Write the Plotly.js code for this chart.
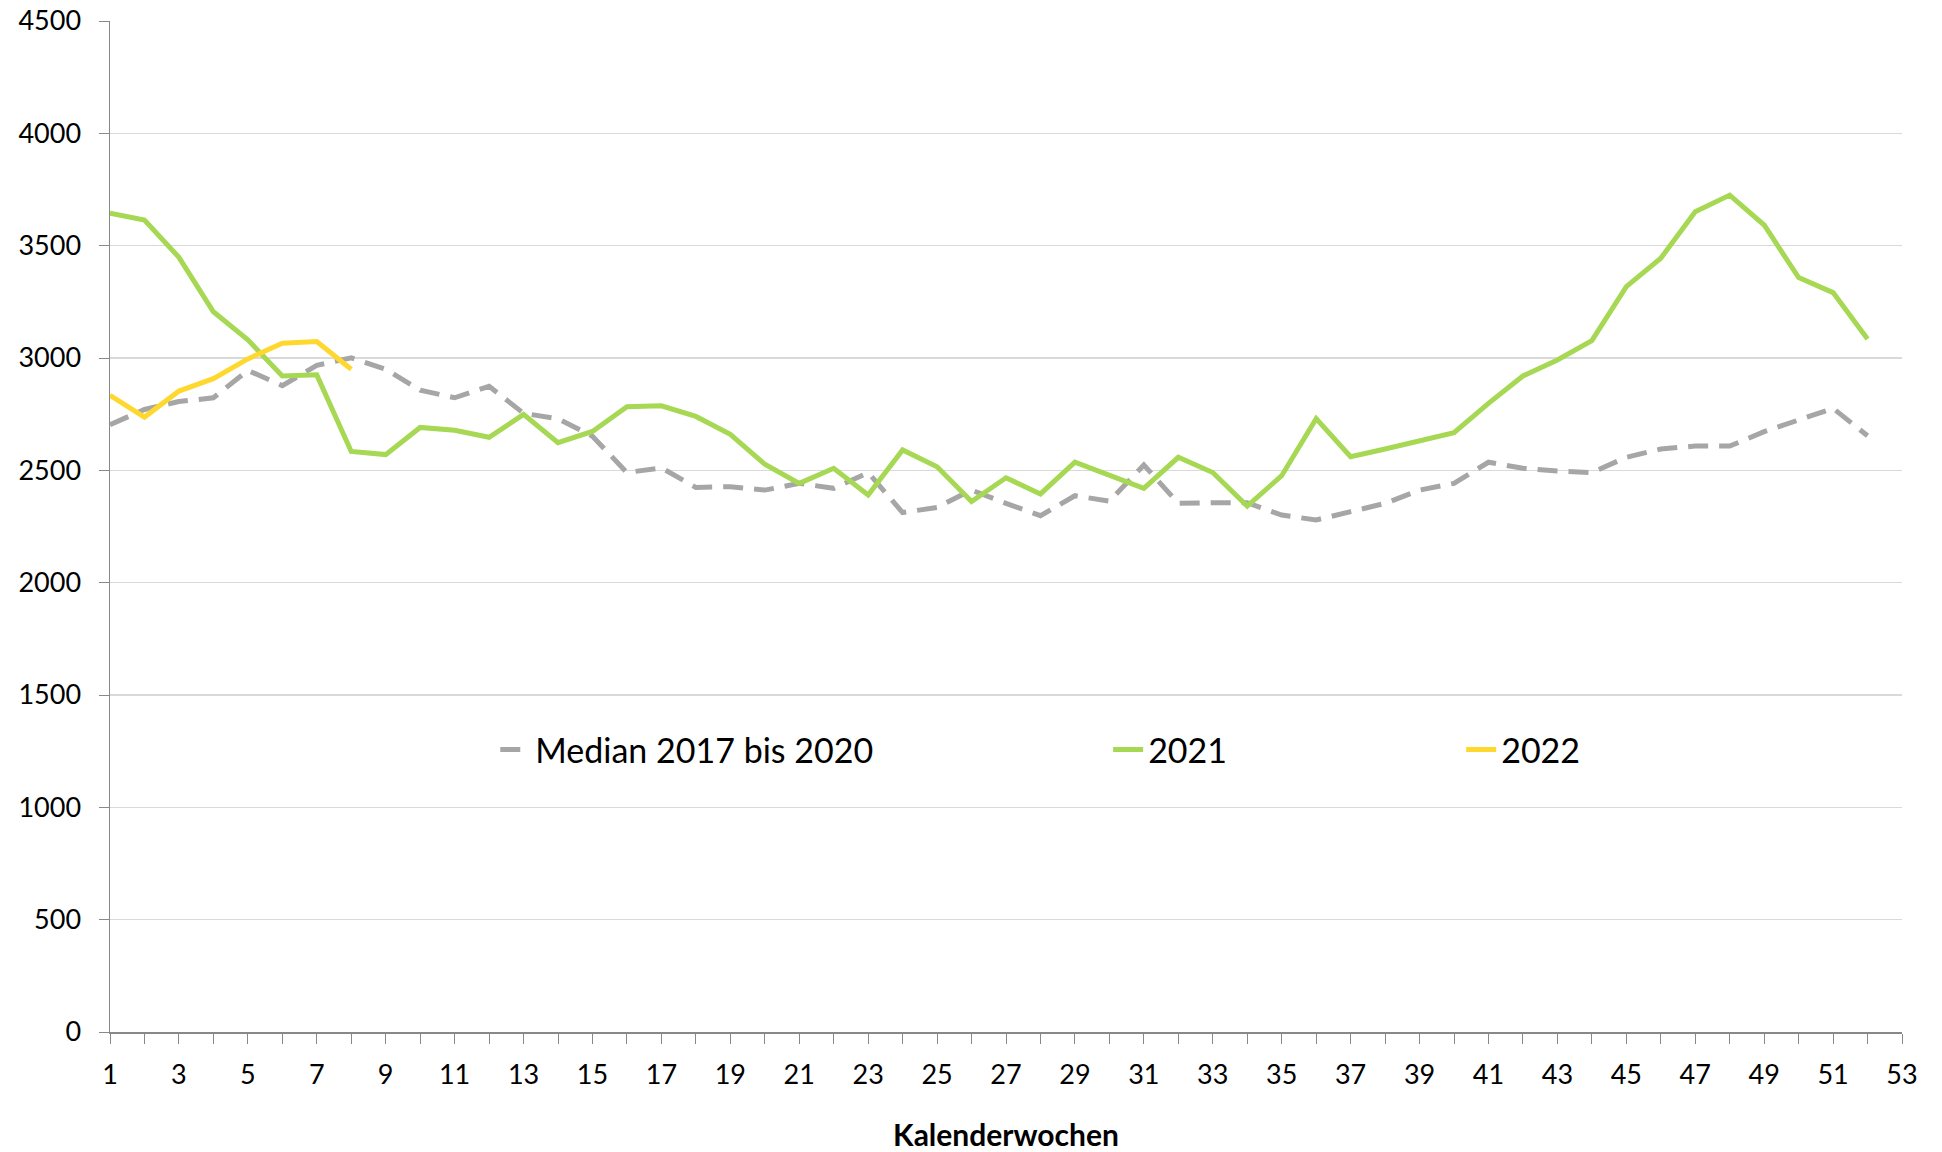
<!DOCTYPE html>
<html>
<head>
<meta charset="utf-8">
<script src="https://cdn.plot.ly/plotly-3.0.1.min.js"></script>
<style>html,body{margin:0;padding:0;background:#fff;}#chart{width:1942px;height:1152px;}</style>
</head>
<body>
<div id="chart"></div>
<script>
const weeks = Array.from({length: 52}, (_, i) => i + 1);
const weeks2022 = [1, 2, 3, 4, 5, 6, 7, 8];

const median2017to2020 = [2703, 2771, 2806, 2823, 2945, 2877, 2967, 3001, 2950, 2857,
  2823, 2874, 2754, 2729, 2652, 2490, 2511, 2424, 2427, 2412,
  2442, 2420, 2490, 2312, 2335, 2412, 2353, 2298, 2387, 2363,
  2524, 2353, 2356, 2356, 2301, 2279, 2316, 2353, 2412, 2442,
  2536, 2509, 2497, 2490, 2558, 2595, 2608, 2608, 2672, 2724,
  2776, 2654];

const values2021 = [3645, 3614, 3448, 3206, 3081, 2920, 2925, 2584, 2570, 2691,
  2678, 2647, 2749, 2623, 2673, 2783, 2787, 2740, 2660, 2527,
  2442, 2509, 2390, 2591, 2516, 2361, 2467, 2395, 2536, 2479,
  2420, 2558, 2490, 2341, 2476, 2730, 2561, 2595, 2631, 2668,
  2798, 2920, 2991, 3077, 3318, 3444, 3651, 3725, 3592, 3358,
  3291, 3085];

const values2022 = [2834, 2737, 2853, 2908, 2996, 3066, 3073, 2950];

const seriesNames = ['Median 2017 bis 2020', '2021', '2022'];
const xTitle = 'Kalenderwochen';

const FONT = 'Lato, "Open Sans", sans-serif';

const traces = [
  {x: weeks, y: median2017to2020, name: seriesNames[0], type: 'scatter', mode: 'lines',
   line: {color: '#A6A6A6', width: 5, dash: '20px,11px'}, legend: 'legend'},
  {x: weeks, y: values2021, name: seriesNames[1], type: 'scatter', mode: 'lines',
   line: {color: '#A6D853', width: 5}, legend: 'legend2'},
  {x: weeks2022, y: values2022, name: seriesNames[2], type: 'scatter', mode: 'lines',
   line: {color: '#FFD82F', width: 5}, legend: 'legend3'}
];

const legendBase = {orientation: 'h', yanchor: 'middle', xanchor: 'left', y: 0.279,
  font: {family: FONT, size: 34, color: '#000'}, bgcolor: 'rgba(0,0,0,0)', borderwidth: 0};

const layout = {
  width: 1942, height: 1152,
  margin: {l: 110, r: 40, t: 21, b: 120},
  paper_bgcolor: '#fff', plot_bgcolor: '#fff',
  font: {family: FONT, size: 27, color: '#000'},
  showlegend: true,
  legend: Object.assign({}, legendBase, {x: 0.215}),
  legend2: Object.assign({}, legendBase, {x: 0.557}),
  legend3: Object.assign({}, legendBase, {x: 0.754}),
  xaxis: {
    range: [1, 53], tick0: 1, dtick: 2, tickmode: 'linear',
    showgrid: false, zeroline: false,
    showline: true, linecolor: '#888888', linewidth: 2,
    ticks: 'outside', ticklen: 10, tickcolor: '#888888', tickwidth: 1,
    minor: {dtick: 1, tick0: 1, ticks: 'outside', ticklen: 10, tickcolor: '#888888', tickwidth: 1, showgrid: false},
    tickfont: {family: FONT, size: 27, color: '#000'},
    ticklabelstandoff: 8,
    title: {text: '<b>' + xTitle + '</b>', font: {family: FONT, size: 30, color: '#000'}, standoff: 36}
  },
  yaxis: {
    range: [0, 4500], dtick: 500, tick0: 0, tickmode: 'linear',
    showgrid: true, gridcolor: '#D9D9D9', gridwidth: 1.5,
    zeroline: false,
    showline: true, linecolor: '#888888', linewidth: 1.5,
    ticks: 'outside', ticklen: 10, tickcolor: '#888888', tickwidth: 1,
    tickfont: {family: FONT, size: 27, color: '#000'},
    ticklabelstandoff: 12
  }
};

Plotly.newPlot('chart', traces, layout, {displayModeBar: false, staticPlot: true});
</script>
</body>
</html>
